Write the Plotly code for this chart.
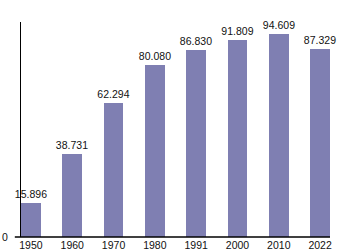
import plotly.graph_objects as go

years = ["1950", "1960", "1970", "1980", "1991", "2000", "2010", "2022"]
values = [15.896, 38.731, 62.294, 80.080, 86.830, 91.809, 94.609, 87.329]
labels = ["15.896", "38.731", "62.294", "80.080", "86.830", "91.809", "94.609", "87.329"]

xs = list(range(len(years)))
FONT = "Liberation Sans, Arial, sans-serif"

fig = go.Figure(go.Bar(
    x=xs, y=values, width=0.48,
    marker=dict(color="#7f7fb2", line=dict(width=0)),
    text=labels, textposition="outside", cliponaxis=False, constraintext="none",
    textfont=dict(size=10.5, color="#111111", family=FONT),
))

fig.update_layout(
    width=350, height=250,
    margin=dict(l=21, r=20, t=22, b=13, autoexpand=False),
    paper_bgcolor="white", plot_bgcolor="white",
    showlegend=False,
    font=dict(family=FONT, size=10.5, color="#111111"),
    bargap=0,
    xaxis=dict(
        range=[-0.24, 7.24], tickmode="array", tickvals=xs, ticktext=years,
        showgrid=False, zeroline=False, showline=False, ticks="", ticklen=0,
        tickfont=dict(size=10.5), fixedrange=True, automargin=False,
    ),
    yaxis=dict(
        range=[0, 100], tickmode="array", tickvals=[0], ticktext=["0"],
        showgrid=False, zeroline=False, showline=True, linecolor="black", linewidth=1,
        ticks="", ticklabelstandoff=10, tickfont=dict(size=10.5), fixedrange=True,
        automargin=False,
    ),
    shapes=[dict(type="line", xref="paper", yref="paper", x0=-0.02, x1=1.0, y0=0, y1=0,
                 line=dict(color="black", width=1.5))],
)

fig.write_html("out.html")
